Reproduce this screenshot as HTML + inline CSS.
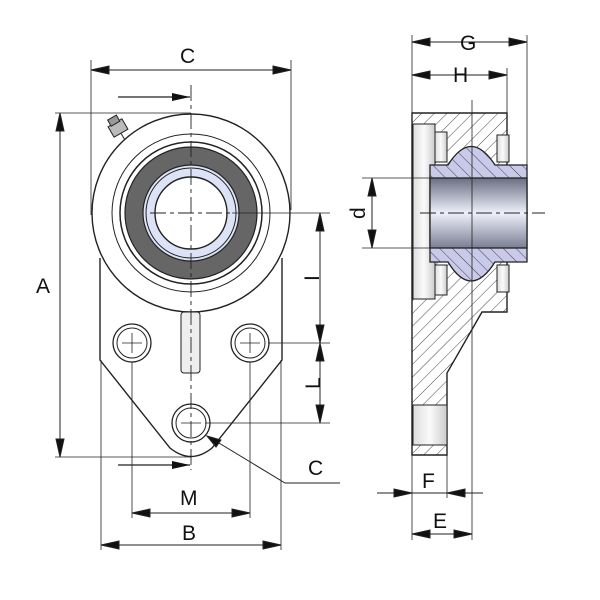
<!DOCTYPE html>
<html><head><style>body{margin:0;background:#fff}svg{display:block}text{font-family:"Liberation Sans",sans-serif;font-size:21px;fill:#111}</style></head>
<body>
<svg width="600" height="600" viewBox="0 0 600 600" xmlns="http://www.w3.org/2000/svg">
<defs>
<pattern id="h" width="9" height="9" patternUnits="userSpaceOnUse" patternTransform="rotate(45)"><line x1="0" y1="0" x2="0" y2="9" stroke="#333" stroke-width="0.9"/></pattern>
<pattern id="hb" width="9" height="9" patternUnits="userSpaceOnUse" patternTransform="rotate(-45)"><rect width="9" height="9" fill="#c9c9ea"/><line x1="0" y1="0" x2="0" y2="9" stroke="#333" stroke-width="0.9"/></pattern>
<linearGradient id="bore" x1="0" y1="0" x2="0" y2="1"><stop offset="0" stop-color="#6a6e82"/><stop offset="0.5" stop-color="#eef0fb"/><stop offset="1" stop-color="#7a7e92"/></linearGradient>
<linearGradient id="grey" x1="0" y1="0" x2="1" y2="0"><stop offset="0" stop-color="#ddd"/><stop offset="0.5" stop-color="#fafafa"/><stop offset="1" stop-color="#ccc"/></linearGradient>
<marker id="a" markerWidth="18" markerHeight="8" refX="18" refY="4" orient="auto" markerUnits="userSpaceOnUse"><path d="M0,0 L18,4 L0,8z" fill="#111"/></marker>
</defs>
<g fill="none" stroke="#222" stroke-width="1">
<path d="M100,258 L100,360 L170,448 Q191,465 212,448 L282,360 L282,258" fill="#fff" stroke-width="1.4"/>
<circle cx="191" cy="213" r="99" fill="#fff" stroke-width="1.4"/>
<circle cx="191" cy="213" r="79"/>
<circle cx="191" cy="213" r="71" stroke-width="1.5"/>
<circle cx="191" cy="213" r="66" fill="#666" stroke-width="1.2"/>
<circle cx="191" cy="213" r="48" fill="#dde3f7" stroke-width="1.2"/>
<circle cx="191" cy="213" r="45"/>
<circle cx="191" cy="213" r="36" fill="#fff" stroke-width="1.4"/>
<rect x="181" y="312" width="19" height="61" rx="3" fill="#eee"/>
<circle cx="132" cy="343" r="19" stroke-width="1.3"/><circle cx="132" cy="343" r="15"/>
<circle cx="250" cy="343" r="19" stroke-width="1.3"/><circle cx="250" cy="343" r="15"/>
<circle cx="191" cy="423" r="19" stroke-width="1.3"/><circle cx="191" cy="423" r="15"/>
<g transform="translate(118,128) rotate(-30)"><rect x="-8" y="-6" width="16" height="12" fill="#bbb"/><rect x="-5" y="-12" width="10" height="7" fill="#999"/><line x1="0" y1="6" x2="0" y2="14"/></g>
<path d="M122,343h20M132,333v20M240,343h20M250,333v20M181,423h20" stroke-width="0.8"/>
<path d="M191,85V470" stroke-dasharray="16,4,4,4" stroke-width="0.9"/>
<path d="M150,213H232" stroke-dasharray="16,4,4,4" stroke-width="0.9"/>
<path d="M91,60V215M291,60V210M55,113H191M55,457H191M232,213H330M268,343H330M205,423H330M132,362V518M250,362V518M101,360V550M281,360V550" stroke-width="0.8"/>
<line x1="91" y1="70" x2="291" y2="70"/>
<path d="M91,70l18,-4v8z M291,70l-18,-4v8z" fill="#111"/>
<line x1="118" y1="97" x2="190" y2="97" marker-end="url(#a)" stroke-width="1.2"/>
<line x1="118" y1="465" x2="190" y2="465" marker-end="url(#a)" stroke-width="1.2"/>
<line x1="60" y1="113" x2="60" y2="457"/>
<path d="M60,113l-4,18h8z M60,457l-4,-18h8z" fill="#111"/>
<line x1="320" y1="213" x2="320" y2="423"/>
<path d="M320,213l-4,18h8z M320,343l-4,-18h8z M320,343l-4,18h8z M320,423l-4,-18h8z" fill="#111"/>
<line x1="132" y1="513" x2="250" y2="513"/>
<path d="M132,513l18,-4v8z M250,513l-18,-4v8z" fill="#111"/>
<line x1="101" y1="545" x2="281" y2="545"/>
<path d="M101,545l18,-4v8z M281,545l-18,-4v8z" fill="#111"/>
<path d="M340,483H285L209,437"/>
<path d="M207,436l14,4l-5,7z" fill="#111"/>
<path d="M412,113H507V312H482L447,373V455H412z" fill="url(#h)" stroke-width="1.4"/>
<rect x="413" y="124" width="22" height="175" fill="url(#grey)" stroke="#222"/>
<rect x="435" y="132" width="12" height="30" fill="url(#grey)"/>
<rect x="435" y="265" width="12" height="30" fill="url(#grey)"/>
<rect x="497" y="135" width="12" height="27" fill="url(#grey)"/>
<rect x="497" y="265" width="12" height="27" fill="url(#grey)"/>
<path d="M448,165 Q471,128 495,165 H527V262H495 Q471,300 448,262H430V165z" fill="url(#hb)" stroke-width="1.3"/>
<rect x="430" y="178" width="97" height="70" fill="url(#bore)" stroke-width="1.3"/>
<rect x="413" y="405" width="34" height="40" fill="url(#grey)"/>
<path d="M472,100V540" stroke-width="0.8"/>
<path d="M420,213H545" stroke-dasharray="16,4,4,4" stroke-width="0.9"/>
<path d="M412,35V540M527,35V185M507,68V115M447,455V498M362,178H430M362,248H430" stroke-width="0.8"/>
<line x1="412" y1="42" x2="527" y2="42"/><path d="M412,42l18,-4v8z M527,42l-18,-4v8z" fill="#111"/>
<line x1="412" y1="75" x2="507" y2="75"/><path d="M412,75l18,-4v8z M507,75l-18,-4v8z" fill="#111"/>
<line x1="372" y1="178" x2="372" y2="248"/><path d="M372,178l-4,18h8z M372,248l-4,-18h8z" fill="#111"/>
<line x1="377" y1="493" x2="483" y2="493"/><path d="M412,493l-18,-4v8z M447,493l18,-4v8z" fill="#111"/>
<line x1="412" y1="534" x2="472" y2="534"/><path d="M412,534l18,-4v8z M472,534l-18,-4v8z" fill="#111"/>
</g>
<text x="180" y="63">C</text>
<text x="36" y="293">A</text>
<text x="308" y="280" transform="rotate(-90 314 275)">I</text>
<text x="304" y="389" transform="rotate(-90 312 381)">L</text>
<text x="308" y="475">C</text>
<text x="180" y="505">M</text>
<text x="182" y="540">B</text>
<text x="460" y="50">G</text>
<text x="453" y="82">H</text>
<text x="352" y="220" transform="rotate(-90 358 213)">d</text>
<text x="422" y="488">F</text>
<text x="433" y="528">E</text>
</svg>
</body></html>
